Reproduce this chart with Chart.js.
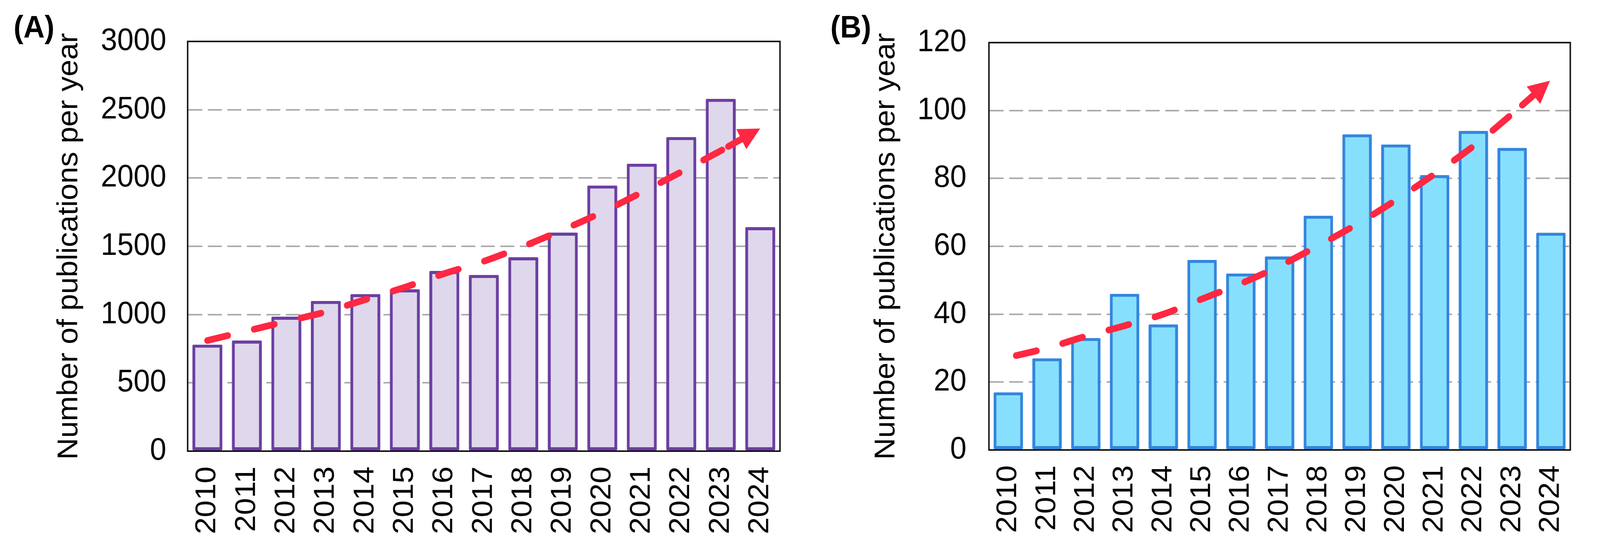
<!DOCTYPE html>
<html lang="en">
<head>
<meta charset="UTF-8">
<title>Number of publications per year</title>
<script src="https://cdn.jsdelivr.net/npm/chart.js"></script>
<style>
  html, body { margin: 0; padding: 0; background: #fff; overflow: hidden; }
  #stage {
    width: 4349px;
    height: 1412px;
    position: relative;
    transform-origin: 0 0;
    font-family: "Liberation Sans", Arial, sans-serif;
  }
  .panel { position: absolute; top: 0; height: 1412px; }
  #wrapA { left: 0; width: 2200px; }
  #wrapB { left: 2200px; width: 2149px; }
  .tag {
    position: absolute;
    top: 29px;
    font-weight: bold;
    font-size: 80px;
    line-height: 80px;
    color: #000;
  }
</style>
</head>
<body>
<div id="stage">
  <div class="panel" id="wrapA"><canvas id="chartA" width="2200" height="1412"></canvas></div>
  <div class="panel" id="wrapB"><canvas id="chartB" width="2149" height="1412"></canvas></div>
  <div class="tag" style="left:37px">(A)</div>
  <div class="tag" style="left:2257px">(B)</div>
</div>

  <script>
    // categories
    const years = ['2010', '2011', '2012', '2013', '2014', '2015', '2016', '2017',
                   '2018', '2019', '2020', '2021', '2022', '2023', '2024'];

    // panel A
    const pubsA = [780, 810, 985, 1100, 1150, 1185, 1320, 1290, 1420, 1600, 1945, 2105, 2300, 2580, 1640];
    const yTicksA = [0, 500, 1000, 1500, 2000, 2500, 3000];
    const trendXA = [0, 1, 2, 3, 4, 5, 6, 7, 8, 9, 10, 11, 12, 13, 13.8];
    const trendA = [810, 880, 950, 1020, 1110, 1200, 1300, 1390, 1500, 1620, 1750, 1895, 2045, 2200, 2330];

    // panel B
    const pubsB = [17, 27, 33, 46, 37, 56, 52, 57, 69, 93, 90, 81, 94, 89, 64];
    const yTicksB = [0, 20, 40, 60, 80, 100, 120];
    const trendXB = [0.2, 1, 2, 3, 4, 5, 6, 7, 8, 9, 10, 11, 12, 13, 13.8];
    const trendB = [27.8, 30, 33.5, 36.6, 40, 44.5, 49, 54.2, 60.2, 66.5, 73.6, 81.3, 89.5, 99, 107];

    const yTitle = 'Number of publications per year';
    const trendColor = '#ff2741';

    // the window can come out narrower than 4349, so stretch the stage onto it
    const stage = document.getElementById('stage');
    const sx = window.innerWidth / 4349, sy = window.innerHeight / 1412;
    if (Math.abs(sx - 1) > 0.001 || Math.abs(sy - 1) > 0.001) {
      stage.style.transform = 'scale(' + sx + ',' + sy + ')';
    }

    Chart.defaults.font.family = '"Liberation Sans", Arial, sans-serif';
    Chart.defaults.color = '#000';

    // top + right edge of the plot box
    const frame = {
      id: 'frame',
      beforeDatasetsDraw(chart) {
        const { ctx, chartArea: a } = chart;
        ctx.save();
        ctx.strokeStyle = '#111';
        ctx.lineWidth = 4;
        ctx.beginPath();
        ctx.moveTo(a.left - 2, a.top);
        ctx.lineTo(a.right, a.top);
        ctx.lineTo(a.right, a.bottom + 2);
        ctx.stroke();
        ctx.restore();
      }
    };

    // arrow head at the end of the trend line
    const arrowHead = {
      id: 'arrowHead',
      afterDatasetsDraw(chart) {
        const { ctx } = chart;
        const pts = chart.getDatasetMeta(1).data;
        const p = pts[pts.length - 1], q = pts[pts.length - 2];
        let dx = p.x - q.x, dy = p.y - q.y;
        const len = Math.hypot(dx, dy);
        dx /= len; dy /= len;
        const tipX = p.x + dx * 24, tipY = p.y + dy * 24;
        const bx = tipX - dx * 58, by = tipY - dy * 58;
        ctx.save();
        ctx.strokeStyle = trendColor;
        ctx.fillStyle = trendColor;
        ctx.lineWidth = 17;
        ctx.lineCap = 'round';
        ctx.beginPath();
        ctx.moveTo(bx - dx * 40, by - dy * 40);
        ctx.lineTo(bx + dx * 10, by + dy * 10);
        ctx.stroke();
        ctx.beginPath();
        ctx.moveTo(tipX, tipY);
        ctx.lineTo(bx - dy * 29, by + dx * 29);
        ctx.lineTo(bx + dy * 29, by - dx * 29);
        ctx.closePath();
        ctx.fill();
        ctx.restore();
      }
    };

    function makeChart(id, cfg) {
      const ctx = document.getElementById(id).getContext('2d');
      return new Chart(ctx, {
        type: 'bar',
        data: {
          labels: years,
          datasets: [{
            type: 'bar',
            xAxisID: 'x',
            data: cfg.values,
            backgroundColor: cfg.fill,
            borderColor: cfg.border,
            borderWidth: 8,
            borderSkipped: false,
            borderRadius: 3,
            grouped: false,
            categoryPercentage: 1,
            barPercentage: 0.76,
            order: 1
          }, {
            type: 'line',
            xAxisID: 'xt',
            data: cfg.trendX.map((x, i) => ({ x: x, y: cfg.trend[i] })),
            borderColor: trendColor,
            borderWidth: 17,
            borderDash: [57, 73],
            borderCapStyle: 'round',
            pointRadius: 0,
            tension: 0.3,
            fill: false,
            order: 0
          }]
        },
        options: {
          responsive: false,
          animation: false,
          layout: { padding: { left: 0, top: cfg.top, right: cfg.right, bottom: 0 } },
          plugins: { legend: { display: false }, tooltip: { enabled: false } },
          scales: {
            x: {
              type: 'category',
              offset: true,
              grid: { display: false, drawTicks: false },
              border: { display: true, color: '#111', width: 4 },
              ticks: {
                autoSkip: false,
                maxRotation: 90,
                minRotation: 90,
                padding: 39,
                font: { size: 78 },
                color: '#000'
              },
              afterFit: s => { s.height = cfg.xHeight; }
            },
            xt: {
              type: 'linear',
              display: false,
              offset: false,
              min: -0.5,
              max: 14.5
            },
            y: {
              min: 0,
              max: cfg.ticks[cfg.ticks.length - 1],
              afterBuildTicks: s => { s.ticks = cfg.ticks.map(v => ({ value: v })); },
              grid: { color: '#ababab', lineWidth: 4, drawTicks: false },
              border: { display: true, color: '#111', width: 4, dash: [38, 15] },
              ticks: {
                padding: cfg.tickPad,
                font: { size: 80 },
                color: '#000',
                callback: v => String(v)
              },
              title: {
                display: true,
                text: yTitle,
                font: { size: 77 },
                color: '#000',
                padding: { top: cfg.titlePad, bottom: 0 }
              },
              afterFit: s => { s.width = cfg.yWidth; }
            }
          }
        },
        plugins: [frame, arrowHead]
      });
    }

    makeChart('chartA', {
      values: pubsA, trendX: trendXA, trend: trendA, ticks: yTicksA,
      fill: '#dfd7eb', border: '#6b3fa1',
      top: 102, right: 29, xHeight: 258, yWidth: 510, tickPad: 58, titlePad: 143
    });

    makeChart('chartB', {
      values: pubsB, trendX: trendXB, trend: trendB, ticks: yTicksB,
      fill: '#86e0fd', border: '#3286de',
      top: 107, right: 27, xHeight: 261, yWidth: 488, tickPad: 61, titlePad: 164
    });
  </script>
</body>
</html>
